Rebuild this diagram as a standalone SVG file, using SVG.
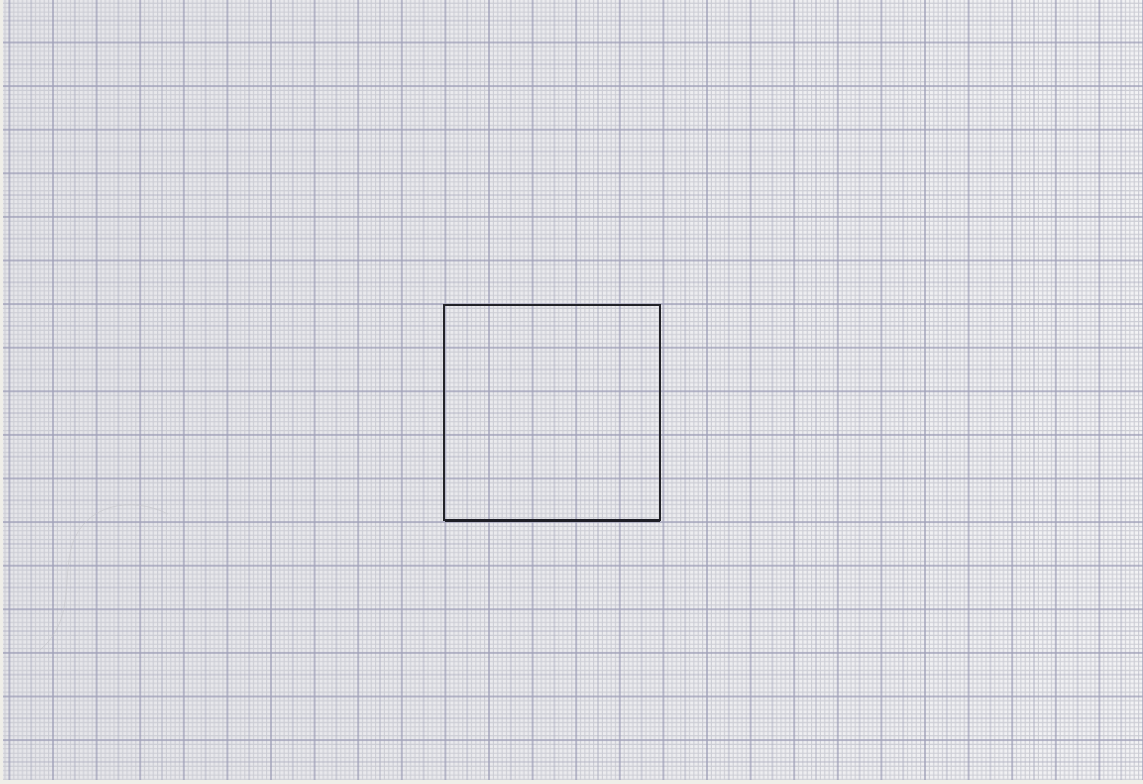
<svg xmlns="http://www.w3.org/2000/svg" width="1143" height="784" viewBox="0 0 1143 784">
<defs>
<linearGradient id="light" x1="0" y1="0" x2="1" y2="0">
<stop offset="0" stop-color="#e6e6ea"/>
<stop offset="0.5" stop-color="#ececef"/>
<stop offset="1" stop-color="#f3f3f5"/>
</linearGradient>
<pattern id="grid" patternUnits="userSpaceOnUse" x="52" y="41.5" width="43.6" height="43.6">
<g stroke="#cbccd4" stroke-width="1.1" fill="none">
<path d="M5.36 0V43.6M9.72 0V43.6M14.08 0V43.6M18.44 0V43.6M27.16 0V43.6M31.52 0V43.6M35.88 0V43.6M40.24 0V43.6"/>
<path d="M0 5.36H43.6M0 9.72H43.6M0 14.08H43.6M0 18.44H43.6M0 27.16H43.6M0 31.52H43.6M0 35.88H43.6M0 40.24H43.6"/>
</g>
<g stroke="#b3b4c4" stroke-width="1.1" fill="none">
<path d="M22.8 0V43.6M0 22.8H43.6"/>
</g>
<g stroke="#9fa0b8" stroke-width="1.4" fill="none">
<path d="M1 0V43.6M0 1H43.6"/>
</g>
</pattern>
<style>
.sq{fill:none;stroke:#222228;stroke-width:2;stroke-linecap:square}
.pencil{fill:none;stroke:#c4c4ca;stroke-width:0.8;opacity:0.8}
</style>
</defs>
<rect width="1143" height="784" fill="url(#light)"/>
<rect width="1143" height="784" fill="url(#grid)"/>
<rect x="0" y="0" width="3" height="784" fill="#efeee8"/>
<rect x="0" y="780" width="1143" height="4" fill="#efeee8"/>
<path class="pencil" d="M168 514 C130 495 85 505 72 545 C62 580 75 620 40 650"/>
<g id="square">
<path class="sq" d="M444 305H660V520"/>
<path class="sq" d="M444 305V520"/>
<path d="M445 520.5H660" stroke="#1e1e26" stroke-width="3" fill="none"/>
</g>
</svg>
